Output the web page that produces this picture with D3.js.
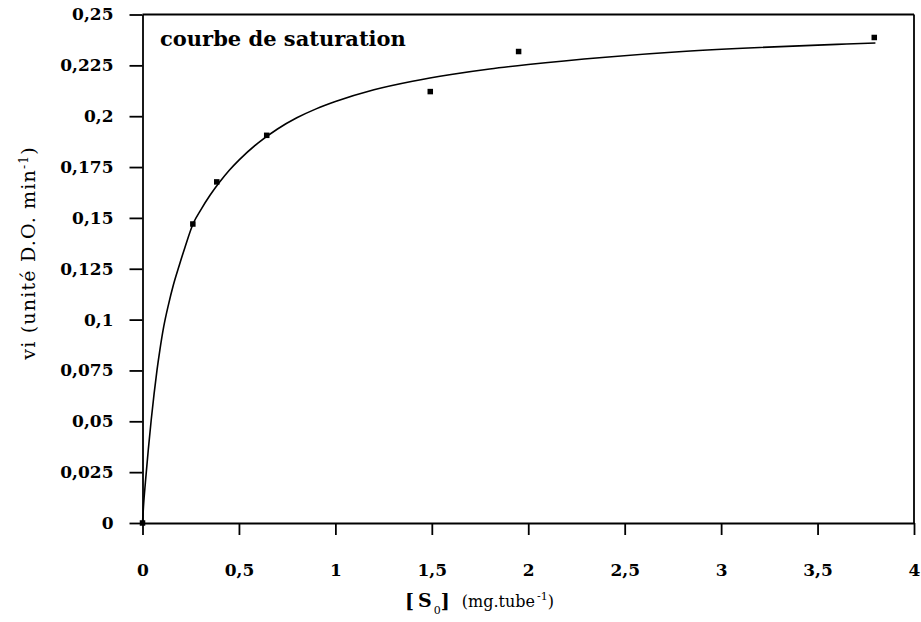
<!DOCTYPE html>
<html>
<head>
<meta charset="utf-8">
<script src="https://cdn.jsdelivr.net/npm/d3@7"></script>
<style>
  body { margin: 0; background: #fff; }
  svg { display: block; }
  .tick text { font-family: "DejaVu Serif", serif; font-weight: bold; font-size: 17px; fill: #000; }
  .tick line, .domain { stroke: #000; stroke-width: 1.8px; }
</style>
</head>
<body>
<div id="chart"></div>
<script>
// ==== data ====

// measured points: substrate concentration vs initial velocity
const pointS = [0, 0.261, 0.385, 0.644, 1.492, 1.95, 3.794];
const pointV = [0, 0.147, 0.1677, 0.1906, 0.2121, 0.2318, 0.2387];

// fitted saturation curve, sampled along the drawn line
const curveS = [0, 0.005, 0.015, 0.03, 0.045, 0.06, 0.075, 0.09, 0.11, 0.135, 0.16, 0.19, 0.22,
  0.264, 0.3, 0.35, 0.4, 0.45, 0.5, 0.6, 0.7, 0.8, 0.9, 1.0, 1.2, 1.4, 1.6, 1.8, 2.0,
  2.4, 2.8, 3.2, 3.6, 3.8];
const curveV = [0, 0.008, 0.02, 0.036, 0.0505, 0.0635, 0.075, 0.085, 0.0965, 0.1075, 0.117, 0.1265, 0.1355,
  0.1475, 0.1536, 0.1611, 0.1676, 0.1734, 0.1784, 0.1869, 0.1937, 0.1992, 0.2036, 0.2072, 0.213, 0.2172, 0.2205, 0.2232, 0.2254,
  0.229, 0.2318, 0.2338, 0.2353, 0.236];

const xTicks = [0, 0.5, 1, 1.5, 2, 2.5, 3, 3.5, 4];
const xTickLabels = ["0", "0,5", "1", "1,5", "2", "2,5", "3", "3,5", "4"];
const yTicks = [0, 0.025, 0.05, 0.075, 0.1, 0.125, 0.15, 0.175, 0.2, 0.225, 0.25];
const yTickLabels = ["0", "0,025", "0,05", "0,075", "0,1", "0,125", "0,15", "0,175", "0,2", "0,225", "0,25"];

// ==== layout ====
const W = 921, H = 622;
const margin = { top: 14.5, right: 7, bottom: 99, left: 142.5 };
const width  = W - margin.left - margin.right;
const height = H - margin.top - margin.bottom;

const svg = d3.select("#chart")
  .append("svg")
    .attr("width", W)
    .attr("height", H)
  .append("g")
    .attr("transform", `translate(${margin.left},${margin.top})`);

const x = d3.scaleLinear().domain([0, 4]).range([0, width]);
const y = d3.scaleLinear().domain([0, 0.25]).range([height, 0]);

// frame (top + right)
svg.append("line")
  .attr("x1", 0).attr("x2", width)
  .attr("y1", y(0.25)).attr("y2", y(0.25))
  .attr("stroke", "#000").attr("stroke-width", 1.8);
svg.append("line")
  .attr("x1", x(4)).attr("x2", x(4))
  .attr("y1", 0).attr("y2", height)
  .attr("stroke", "#000").attr("stroke-width", 1.8);

// axes
const xAxis = svg.append("g")
  .attr("transform", `translate(0,${height})`)
  .call(d3.axisBottom(x)
    .tickValues(xTicks)
    .tickFormat((d, i) => xTickLabels[i])
    .tickSize(12)
    .tickSizeOuter(0)
    .tickPadding(40));
xAxis.selectAll(".tick text").attr("dy", 0).attr("y", 53);

svg.append("g")
  .call(d3.axisLeft(y)
    .tickValues(yTicks)
    .tickFormat((d, i) => yTickLabels[i])
    .tickSize(13)
    .tickSizeOuter(0)
    .tickPadding(16));

// saturation curve
const line = d3.line()
  .x((d, i) => x(curveS[i]))
  .y((d, i) => y(curveV[i]))
  .curve(d3.curveMonotoneX);

svg.append("path")
  .datum(curveS)
  .attr("d", line)
  .attr("fill", "none")
  .attr("stroke", "#000")
  .attr("stroke-width", 1.6);

// measured points (small squares)
svg.append("g")
  .selectAll("rect")
  .data(pointS)
  .enter()
  .append("rect")
    .attr("x", d => x(d) - 2.75)
    .attr("y", (d, i) => y(pointV[i]) - 2.75)
    .attr("width", 5.5)
    .attr("height", 5.5)
    .attr("fill", "#000");

// title inside plot
svg.append("text")
  .attr("x", 160 - margin.left)
  .attr("y", 46 - margin.top)
  .style("font-family", "DejaVu Serif, serif")
  .style("font-weight", "bold")
  .style("font-size", "21px")
  .text("courbe de saturation");

// x axis label: [S0] (mg.tube-1)
const xl = svg.append("text")
  .attr("x", 405 - margin.left)
  .attr("y", 607 - margin.top)
  .style("font-family", "DejaVu Serif, serif")
  .style("font-size", "16px");
xl.append("tspan").style("font-weight", "bold").style("font-size", "19px").text("[");
xl.append("tspan").style("font-weight", "bold").style("font-size", "19px").attr("dx", 4).text("S");
xl.append("tspan").style("font-size", "11px").attr("dx", 2).attr("dy", 7).text("0");
xl.append("tspan").style("font-weight", "bold").style("font-size", "19px").attr("dy", -7).text("]");
xl.append("tspan").attr("dx", 12).text("(mg.tube");
xl.append("tspan").style("font-size", "11px").attr("dx", 2).attr("dy", -7).text("-1");
xl.append("tspan").attr("dy", 7).text(")");

// y axis label: vi (unité D.O. min-1)
const yl = svg.append("text")
  .attr("transform", `translate(${35 - margin.left},${253 - margin.top}) rotate(-90)`)
  .attr("text-anchor", "middle")
  .style("font-family", "DejaVu Serif, serif")
  .style("font-size", "19px")
  .style("letter-spacing", "1.2px");
yl.append("tspan").text("vi (unité D.O. min");
yl.append("tspan").style("font-size", "12px").attr("dy", -7).text("-1");
yl.append("tspan").attr("dy", 7).text(")");
</script>
</body>
</html>
